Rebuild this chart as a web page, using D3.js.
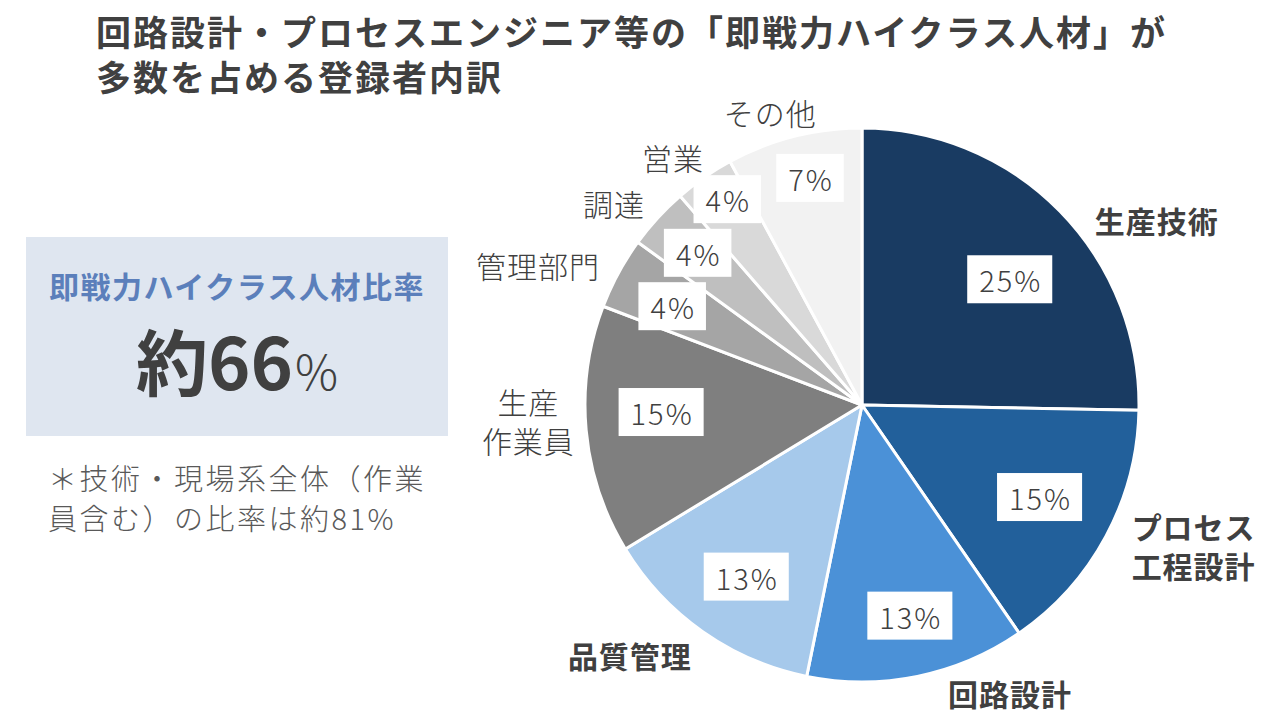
<!DOCTYPE html>
<html lang="ja">
<head>
<meta charset="utf-8">
<script src="https://cdn.jsdelivr.net/npm/d3@7"></script>
<style>
  html, body { margin: 0; padding: 0; background: #ffffff; }
  svg { display: block; font-family: "Noto Sans CJK JP", "Noto Sans", sans-serif; }
</style>
</head>
<body>
<svg id="chart" width="1280" height="720"></svg>
<script>
// ---- data ----
const categories = ["生産技術", "プロセス工程設計", "回路設計", "品質管理", "生産作業員", "管理部門", "調達", "営業", "その他"];
const categoryLines = [["生産技術"], ["プロセス", "工程設計"], ["回路設計"], ["品質管理"], ["生産", "作業員"], ["管理部門"], ["調達"], ["営業"], ["その他"]];
const shares = [25.3, 15.1, 12.8, 13.1, 14.5, 4.2, 3.6, 3.5, 7.9];
const shareLabels = ["25%", "15%", "13%", "13%", "15%", "4%", "4%", "4%", "7%"];
const highClass = [true, true, true, true, false, false, false, false, false];
const titleLines = ["回路設計・プロセスエンジニア等の「即戦力ハイクラス人材」が", "多数を占める登録者内訳"];
const calloutTitle = "即戦力ハイクラス人材比率";
const calloutValue = ["約", "66", "%"];
const noteLines = ["＊技術・現場系全体（作業", "員含む）の比率は約81%"];

// ---- style / layout ----
const colors = ["#193b62", "#22609b", "#4b91d7", "#a6c9eb", "#7f7f7f", "#a5a5a5", "#bfbfbf", "#d9d9d9", "#f2f2f2"];
const pctLabelAngle = [49.6, 117.4, 167.2, 214, 268, 297.5, 312.8, 326.8, 347.1];
const pctLabelRadius = [194, 200, 216, 207, 201, 214, 224, 246, 233];
const outerLabelAngle = [57.9, 112.9, 152.8, 222.9, 267.3, 293.4, 309.2, 322.7, 342.6];
const outerLabelRadius = [348, 360, 324, 341, 334, 353, 320, 312, 307];
const cx = 862, cy = 405, R = 277;
const textColor = "#404040";

const svg = d3.select("#chart");
const polar = (deg, r) => {
  const a = deg * Math.PI / 180;
  return [r * Math.sin(a), -r * Math.cos(a)];
};

// title
svg.append("g").selectAll("text").data(titleLines).join("text")
  .attr("x", 96).attr("y", (d, i) => 30 + i * 45)
  .attr("dominant-baseline", "central")
  .attr("font-size", 35).attr("font-weight", 700)
  .attr("letter-spacing", 2)
  .attr("fill", textColor)
  .text(d => d);

// callout box
const box = svg.append("g");
box.append("rect").attr("x", 26).attr("y", 237).attr("width", 422).attr("height", 199).attr("fill", "#dfe6f0");
box.append("text").attr("x", 237).attr("y", 285)
  .attr("text-anchor", "middle").attr("dominant-baseline", "central")
  .attr("font-size", 30).attr("font-weight", 700).attr("letter-spacing", 1.5)
  .attr("fill", "#5b7fbb").text(calloutTitle);
const big = box.append("text").attr("x", 237).attr("y", 390)
  .attr("text-anchor", "middle").attr("fill", textColor);
big.append("tspan").attr("font-size", 72).attr("font-weight", 700).text(calloutValue[0]);
big.append("tspan").attr("font-size", 72).attr("font-weight", 700).text(calloutValue[1]);
big.append("tspan").attr("font-size", 48).attr("font-weight", 300).attr("dx", 2).text(calloutValue[2]);

svg.append("g").selectAll("text").data(noteLines).join("text")
  .attr("x", 48).attr("y", (d, i) => 477 + i * 40)
  .attr("dominant-baseline", "central")
  .attr("font-size", 29).attr("font-weight", 300).attr("letter-spacing", 2.5)
  .attr("fill", "#595959").text(d => d);

// pie
const pie = d3.pie().sort(null).value(d => d).startAngle(0).endAngle(2 * Math.PI);
const arcs = pie(shares);
const arc = d3.arc().innerRadius(0).outerRadius(R);
const g = svg.append("g").attr("transform", `translate(${cx},${cy})`);
g.selectAll("path").data(arcs).join("path")
  .attr("d", arc)
  .attr("fill", (d, i) => colors[i])
  .attr("stroke", "#ffffff").attr("stroke-width", 3).attr("stroke-linejoin", "round");

// percentage labels
const pct = g.selectAll("g.pct").data(arcs).join("g").attr("class", "pct")
  .attr("transform", (d, i) => `translate(${polar(pctLabelAngle[i], pctLabelRadius[i])})`);
pct.append("rect").attr("fill", "#ffffff");
pct.append("text")
  .attr("text-anchor", "middle").attr("dominant-baseline", "central")
  .attr("font-size", 29).attr("font-weight", 300).attr("fill", textColor)
  .attr("letter-spacing", 2).attr("dx", 1)
  .text((d, i) => shareLabels[i]);
pct.each(function() {
  const t = d3.select(this).select("text").node();
  const w = t.getComputedTextLength() + 22;
  d3.select(this).select("rect").attr("x", -w / 2).attr("y", -24).attr("width", w).attr("height", 48);
});

// category labels
const outer = g.selectAll("text.cat").data(categories).join("text").attr("class", "cat")
  .attr("text-anchor", "middle")
  .attr("font-size", 30)
  .attr("font-weight", (d, i) => highClass[i] ? 700 : 300)
  .attr("letter-spacing", 1)
  .attr("fill", textColor);
outer.each(function(d, i) {
  const [x, y] = polar(outerLabelAngle[i], outerLabelRadius[i]);
  const lines = categoryLines[i];
  const lh = 39;
  d3.select(this).selectAll("tspan").data(lines).join("tspan")
    .attr("x", x)
    .attr("y", (l, j) => y + (j - (lines.length - 1) / 2) * lh)
    .attr("dominant-baseline", "central")
    .text(l => l);
});
</script>
</body>
</html>
